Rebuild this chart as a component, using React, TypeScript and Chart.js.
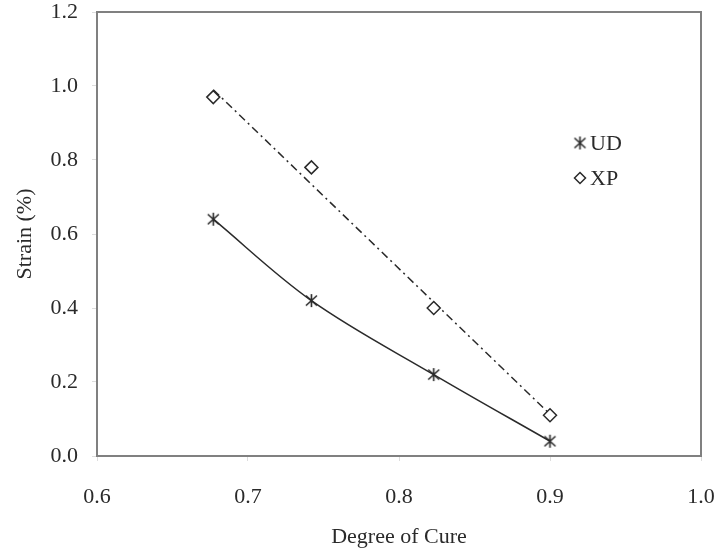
import React, { useEffect, useRef } from "react";
import { Chart, registerables } from "chart.js";

Chart.register(...registerables);

const cure: number[] = [0.677, 0.742, 0.823, 0.9];
const udStrain: number[] = [0.64, 0.42, 0.22, 0.04];
const xpStrain: number[] = [0.97, 0.78, 0.4, 0.11];
const xpFitX: number[] = [0.677, 0.9];
const xpFitY: number[] = [0.99, 0.113];
const xTicks: number[] = [0.6, 0.7, 0.8, 0.9, 1.0];
const yTicks: number[] = [0, 0.2, 0.4, 0.6, 0.8, 1.0, 1.2];
const seriesNames: string[] = ["UD", "XP"];

const INK = "#2a2a2a";
const FRAME = "#808080";
const FONT = "'Liberation Serif', 'Times New Roman', serif";

function makeAsterisk(): HTMLCanvasElement {
  const c = document.createElement("canvas");
  c.width = 15;
  c.height = 15;
  const g = c.getContext("2d")!;
  g.strokeStyle = INK;
  g.lineWidth = 1.6;
  g.beginPath();
  g.moveTo(2, 2.5);
  g.lineTo(13, 12.5);
  g.moveTo(13, 2.5);
  g.lineTo(2, 12.5);
  g.moveTo(7.5, 1);
  g.lineTo(7.5, 14);
  g.stroke();
  return c;
}

export default function App() {
  const ref = useRef<HTMLCanvasElement | null>(null);

  useEffect(() => {
    if (!ref.current) return;
    const star = makeAsterisk();

    const framePlugin = {
      id: "frameAndLegend",
      afterDraw(chart: any) {
        const { ctx, chartArea } = chart;
        ctx.save();
        ctx.strokeStyle = FRAME;
        ctx.lineWidth = 2;
        ctx.strokeRect(chartArea.left, chartArea.top, chartArea.right - chartArea.left, chartArea.bottom - chartArea.top);
        // legend
        const lx = 580;
        const ly = [143, 178];
        ctx.drawImage(star, lx - 7.5, ly[0] - 7.5);
        ctx.beginPath();
        ctx.moveTo(lx, ly[1] - 5.5);
        ctx.lineTo(lx + 5.5, ly[1]);
        ctx.lineTo(lx, ly[1] + 5.5);
        ctx.lineTo(lx - 5.5, ly[1]);
        ctx.closePath();
        ctx.fillStyle = "#fff";
        ctx.fill();
        ctx.strokeStyle = INK;
        ctx.lineWidth = 1.5;
        ctx.stroke();
        ctx.fillStyle = INK;
        ctx.font = `22px ${FONT}`;
        ctx.textBaseline = "middle";
        ctx.textAlign = "left";
        ctx.fillText(seriesNames[0], lx + 10, ly[0] + 1);
        ctx.fillText(seriesNames[1], lx + 10, ly[1] + 1);
        ctx.restore();
      },
    };

    const chart = new Chart(ref.current, {
      type: "scatter",
      data: {
        datasets: [
          {
            label: seriesNames[0],
            data: cure.map((x, i) => ({ x, y: udStrain[i] })),
            showLine: true,
            borderColor: INK,
            borderWidth: 1.5,
            tension: 0.35,
            pointStyle: star as any,
            pointRadius: 7,
            order: 1,
          },
          {
            label: seriesNames[1],
            data: cure.map((x, i) => ({ x, y: xpStrain[i] })),
            showLine: false,
            pointStyle: "rectRot",
            pointRadius: 6.5,
            backgroundColor: "#ffffff",
            borderColor: INK,
            borderWidth: 1.5,
            order: 1,
          },
          {
            label: "XP fit",
            data: xpFitX.map((x, i) => ({ x, y: xpFitY[i] })),
            showLine: true,
            borderColor: INK,
            borderWidth: 1.5,
            borderDash: [8, 4, 2, 4],
            pointRadius: 0,
            order: 3,
          },
        ],
      },
      options: {
        animation: false,
        responsive: false,
        layout: { padding: { top: 12, right: 17, left: 0, bottom: 0 } },
        plugins: { legend: { display: false }, tooltip: { enabled: false } },
        scales: {
          x: {
            type: "linear",
            min: 0.6,
            max: 1.0,
            afterBuildTicks: (s: any) => {
              s.ticks = xTicks.map((v) => ({ value: v }));
            },
            afterFit: (s: any) => {
              s.height = 98;
              s.paddingLeft = 0;
              s.paddingRight = 0;
            },
            ticks: {
              padding: 23,
              color: INK,
              font: { family: FONT, size: 22 },
              callback: (v: any) => Number(v).toFixed(1),
            },
            grid: { drawOnChartArea: false, drawTicks: true, tickLength: 5, color: "#dddddd" },
            border: { display: true, color: FRAME, width: 2 },
            title: {
              display: true,
              text: "Degree of Cure",
              color: INK,
              font: { family: FONT, size: 22 },
              padding: { top: 0, bottom: 4 },
            },
          },
          y: {
            type: "linear",
            min: 0,
            max: 1.2,
            afterBuildTicks: (s: any) => {
              s.ticks = yTicks.map((v) => ({ value: v }));
            },
            afterFit: (s: any) => {
              s.width = 97;
              s.paddingTop = 0;
              s.paddingBottom = 0;
            },
            ticks: {
              padding: 14,
              color: INK,
              font: { family: FONT, size: 22 },
              callback: (v: any) => Number(v).toFixed(1),
            },
            grid: { drawOnChartArea: false, drawTicks: true, tickLength: 5, color: "#dddddd" },
            border: { display: true, color: FRAME, width: 2 },
            title: {
              display: true,
              text: "Strain (%)",
              color: INK,
              font: { family: FONT, size: 22 },
              padding: { top: 12, bottom: 0 },
            },
          },
        },
      },
      plugins: [framePlugin],
    } as any);

    return () => chart.destroy();
  }, []);

  return (
    <div style={{ position: "absolute", left: 0, top: 0, width: 718, height: 554, background: "#fff" }}>
      <canvas ref={ref} width={718} height={554} style={{ display: "block" }} />
    </div>
  );
}
